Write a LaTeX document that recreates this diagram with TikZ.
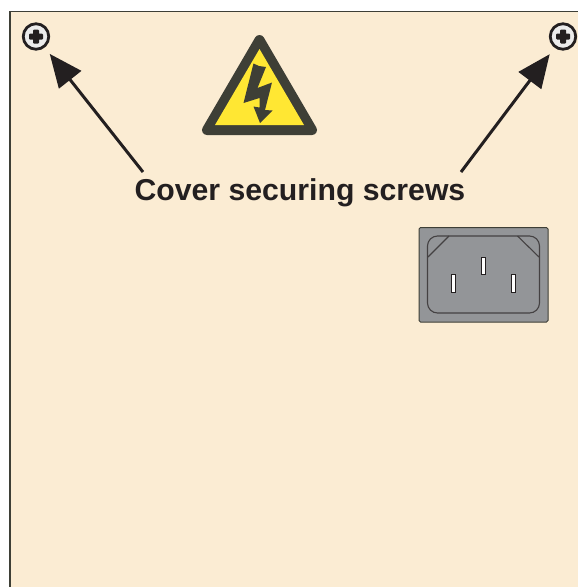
\documentclass[tikz,border=0pt]{standalone}
\usepackage{fontspec}
\setmainfont{Liberation Sans}
\usetikzlibrary{arrows.meta}
\definecolor{panelcol}{HTML}{FBECD3}
\definecolor{inkcol}{HTML}{231F20}
\definecolor{signcol}{HTML}{3E3F36}
\definecolor{boltcol}{HTML}{FFE733}
\definecolor{inletcol}{HTML}{939598}
\begin{document}
\begin{tikzpicture}[x=1pt, y=-1pt,
	every path/.style={line width=1.2pt},
	screw/.style={circle, inner sep=0, minimum size=25.5pt, draw=inkcol,
				line width=2.8pt, fill=white!92!black},
	pointer/.style={-{Triangle[length=33pt,width=28pt]}, draw=inkcol,
				line width=3pt, shorten >=8pt},
	pin/.style={draw=inkcol, line width=0.7pt, fill=white}]
	\useasboundingbox (0,0) rectangle (578,587);
	\fill[white] (0,0) rectangle (578,587);
	\fill[panelcol] (10,11.5) rectangle (578,587);
	\draw[signcol, line width=1.5pt] (10,587) -- (10,11.5) -- (578,11.5);
	
	% screws
	\node[screw] (screwL) at (36,36.5) {};
	\node[screw] (screwR) at (563,36.5) {};
	\fill[inkcol, rounded corners=1pt] (33,29.5) rectangle (39,43.5) (29,33.5) rectangle (43,39.5);
	\fill[inkcol, rounded corners=1pt] (560,29.5) rectangle (566,43.5) (556,33.5) rectangle (570,39.5);
	
	% warning sign
	\draw[signcol, fill=signcol, line width=10pt, line join=round]
		(259.5,40) -- (207,130) -- (312,130) -- cycle;
	\fill[boltcol] (259.5,49) -- (215,125) -- (304,125) -- cycle;
	\fill[signcol] (253.5,63.5) -- (259,66) -- (266,67) -- (257.5,88) -- (272,82.5)
		-- (265,110) -- (272.5,110.5) -- (260,123) -- (253.5,106.5) -- (259.5,107.5)
		-- (259.5,98) -- (243.5,103) -- cycle;
	
	% power inlet
	\draw[signcol, fill=inletcol, line width=1pt, rounded corners=1.5pt]
		(419,227.5) rectangle (548,322);
	\draw[inkcol!85, line width=1.1pt, rounded corners=10pt]
		(427.5,236) rectangle (539.5,313);
	\draw[inkcol!85, line width=1.1pt] (449,236) -- (428,257);
	\draw[inkcol!85, line width=1.1pt] (517.5,236) -- (539,257);
	\draw[pin] (451.5,274.5) rectangle (455.5,292);
	\draw[pin] (481.5,257.5) rectangle (485.5,274.5);
	\draw[pin] (511.5,274.5) rectangle (515.5,292);
	
	% label and arrows
	\node[text=inkcol, inner sep=0, font=\fontsize{30.2}{32}\selectfont\bfseries]
		(caption) at (300,193) {Cover securing screws};
	\coordinate (tailL) at (143,172);
	\coordinate (tailR) at (461,172);
	\draw[pointer] (tailL) -- (screwL);
	\draw[pointer] (tailR) -- (screwR);
	
\end{tikzpicture}
\end{document}
